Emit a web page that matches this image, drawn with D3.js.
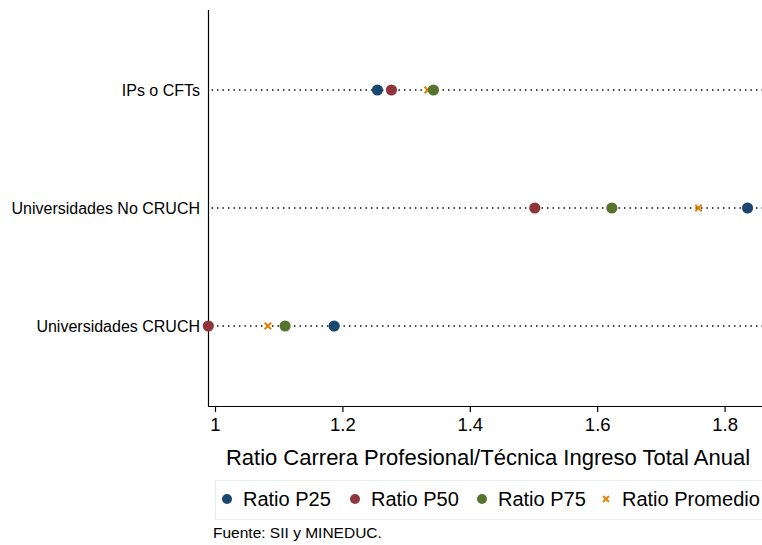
<!DOCTYPE html>
<html><head><meta charset="utf-8">
<script src="https://cdn.jsdelivr.net/npm/d3@7"></script>
<style>body{margin:0;background:#fff}svg{display:block;font-family:"Liberation Sans",Arial,sans-serif}</style>
</head><body><svg id="c" width="762" height="545"></svg>
<script>
const categories = ["IPs o CFTs", "Universidades No CRUCH", "Universidades CRUCH"];
const ratioP25 = [1.255, 1.836, 1.187];
const ratioP50 = [1.277, 1.502, 0.9895];
const ratioP75 = [1.343, 1.623, 1.110];
const ratioPromedio = [1.334, 1.759, 1.083];
const xTicks = [1, 1.2, 1.4, 1.6, 1.8];
const xTickLabels = ["1", "1.2", "1.4", "1.6", "1.8"];
const seriesNames = ["Ratio P25", "Ratio P50", "Ratio P75", "Ratio Promedio"];
const colors = ["#1a476f", "#90353b", "#55752f", "#e37e00"];

const svg = d3.select("#c");
const x = d3.scaleLinear().domain([1, 1.8]).range([215, 724.6]);
const y = d3.scaleLinear().domain([-80/118, 2 + 80/118]).range([10, 406]);
const axisY = 406, axisX = 208.5;

// dotted guide lines
svg.append("g").selectAll("line").data(categories).join("line")
  .attr("x1", axisX + 3).attr("x2", 762)
  .attr("y1", (d, i) => y(i)).attr("y2", (d, i) => y(i))
  .attr("stroke", "#000").attr("stroke-width", 1.6)
  .attr("stroke-dasharray", "1.4,4.1");

// axes
const xAxis = d3.axisBottom(x).tickValues(xTicks).tickFormat((d, i) => xTickLabels[i]).tickSize(6).tickPadding(6);
const gx = svg.append("g").attr("transform", `translate(0,${axisY})`).call(xAxis);
gx.select(".domain").attr("d", `M${axisX},0.5H762`).attr("stroke-width", 1.2);
gx.selectAll(".tick line").attr("stroke-width", 1.2);
gx.selectAll(".tick text").attr("font-size", 18.5).attr("font-family", "Liberation Sans, Arial, sans-serif").attr("fill", "#000");

svg.append("line").attr("x1", axisX).attr("x2", axisX).attr("y1", 10).attr("y2", axisY + 1)
  .attr("stroke", "#000").attr("stroke-width", 1.2);

svg.append("g").selectAll("text").data(categories).join("text")
  .attr("x", 200).attr("y", (d, i) => y(i)).attr("dy", "0.35em")
  .attr("text-anchor", "end").attr("font-size", 16).text(d => d);

svg.append("text").attr("x", 488).attr("y", 465).attr("text-anchor", "middle")
  .attr("font-size", 22).text("Ratio Carrera Profesional/Técnica Ingreso Total Anual");

// markers
function circles(vals, color) {
  svg.append("g").selectAll("circle").data(vals).join("circle")
    .attr("cx", d => x(d)).attr("cy", (d, i) => y(i)).attr("r", 5.6)
    .attr("fill", color);
}
function crosses(vals, color) {
  const s = 3.2;
  svg.append("g").selectAll("path").data(vals).join("path")
    .attr("d", (d, i) => { const cx = x(d), cy = y(i); return `M${cx-s},${cy-s}L${cx+s},${cy+s}M${cx-s},${cy+s}L${cx+s},${cy-s}`; })
    .attr("stroke", color).attr("stroke-width", 2);
}
crosses(ratioPromedio, colors[3]);
circles(ratioP25, colors[0]);
circles(ratioP50, colors[1]);
circles(ratioP75, colors[2]);

// legend
svg.append("rect").attr("x", 215.5).attr("y", 480.5).attr("width", 560).attr("height", 39)
  .attr("fill", "none").attr("stroke", "#e8ecec").attr("stroke-width", 1);
const legX = [227, 355, 482, 606];
const lg = svg.append("g");
seriesNames.forEach((n, i) => {
  if (i < 3) lg.append("circle").attr("cx", legX[i]).attr("cy", 499).attr("r", 5).attr("fill", colors[i]);
  else lg.append("path").attr("d", `M${legX[i]-3},${496}L${legX[i]+3},${502}M${legX[i]-3},${502}L${legX[i]+3},${496}`)
    .attr("stroke", colors[i]).attr("stroke-width", 1.8);
  lg.append("text").attr("x", legX[i] + 16).attr("y", 499).attr("dy", "0.35em").attr("font-size", 20).text(n);
});

svg.append("text").attr("x", 213).attr("y", 538).attr("font-size", 15.5).text("Fuente: SII y MINEDUC.");
</script></body></html>
